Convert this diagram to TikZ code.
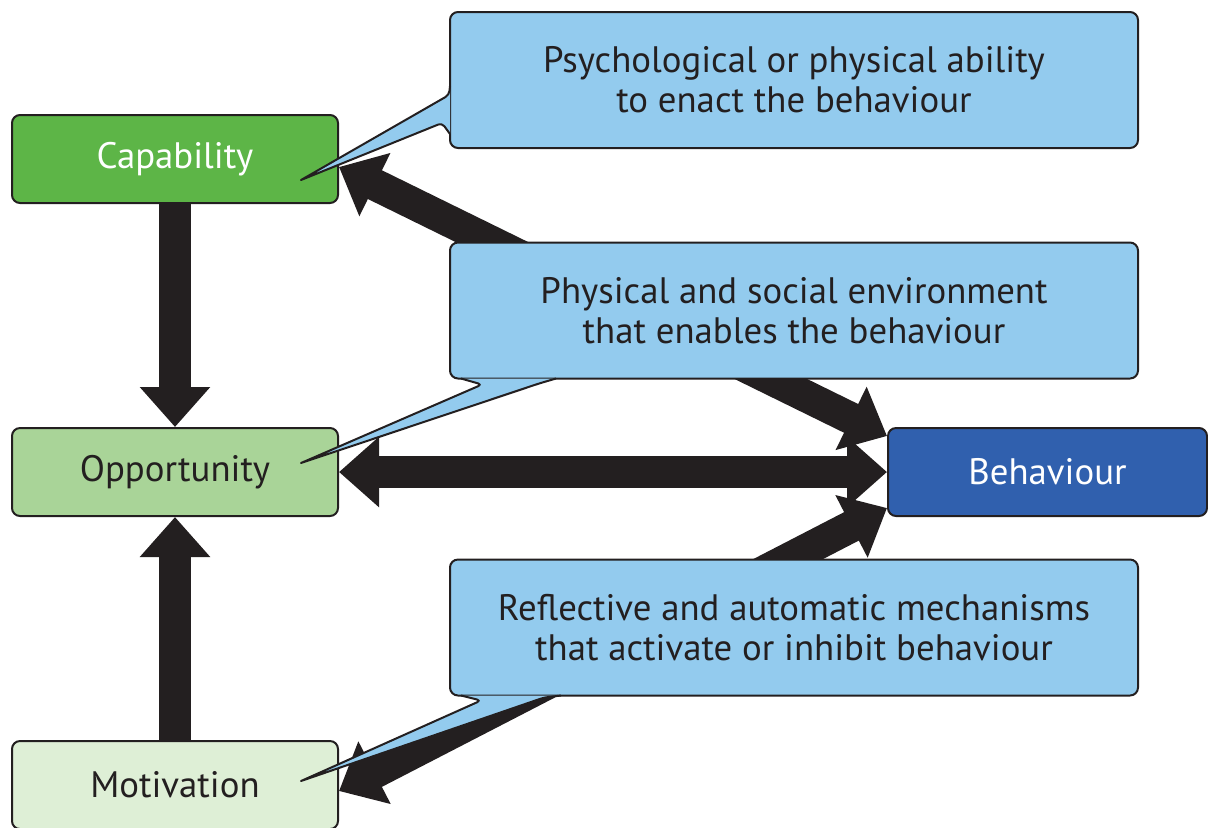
\documentclass[tikz,border=0pt]{standalone}
\usepackage{fontspec}
\setmainfont{PT Sans}
\usepackage{tikz}
\usetikzlibrary{calc, arrows.meta}
\definecolor{capgreen}{HTML}{5DB547}
\definecolor{oppgreen}{HTML}{A9D498}
\definecolor{motgreen}{HTML}{DEEFD6}
\definecolor{behblue}{HTML}{3060AE}
\definecolor{callblue}{HTML}{93CBEE}
\definecolor{ink}{HTML}{231F20}
\tikzstyle{blk}=[draw=ink, line width=1pt, rounded corners=4pt, minimum width=163pt, minimum height=44pt, inner sep=0pt, text=ink, font=\fontsize{18.4}{20}\selectfont]
\tikzstyle{callbox}=[blk, fill=callblue, minimum width=344pt, minimum height=68pt, align=center]
\tikzstyle{notetail}=[fill=callblue, draw=ink, line width=1pt, line join=round, rounded corners=2pt]
\tikzstyle{fat}=[line width=16pt, draw=ink, -{Triangle[length=20pt,width=34pt]}]
\tikzstyle{fatboth}=[fat, {Triangle[length=20pt,width=34pt]}-{Triangle[length=20pt,width=34pt]}]

\begin{document}
\begin{tikzpicture}[x=0.5pt,y=-0.5pt,node distance=156.5pt]
  \useasboundingbox (0,0) rectangle (1208,827);
  % the four blocks
  \node [blk, fill=capgreen, text=white] (cap) at (175,159) {Capability};
  \node [blk, fill=oppgreen] (opp) [below of=cap] {Opportunity};
  \node [blk, fill=motgreen] (mot) [below of=opp] {Motivation};
  \node [blk, fill=behblue, text=white, minimum width=159.5pt] (beh) at (1047.5,472) {Behaviour};

  % links
  \draw [fat] (cap.south) -- (opp.north);
  \draw [fat] (mot.north) -- (opp.south);
  \draw [fatboth] (opp.east) -- (beh.west);
  \draw [fatboth] ($(cap.east)+(0,8)$) -- ($(beh.west)+(0,-36)$);
  \draw [fatboth] ($(mot.east)+(0,6)$) -- ($(beh.west)+(0,36)$);

  % callouts
  \node [callbox] (c1) at (794,80) {Psychological or physical ability\\to enact the behaviour};
  \node [callbox] (c2) at (794,310.5) {Physical and social environment\\that enables the behaviour};
  \node [callbox] (c3) at (794,627.5) {Reflective and automatic mechanisms\\that activate or inhibit behaviour};

  \filldraw [notetail] ($(c1.west)+(1,6)$) -- ($(c1.west)+(0,15)$) [sharp corners]
    -- ($(cap.east)+(-38,21)$) [rounded corners=2pt] -- ($(c1.west)+(-7,43)$) -- ($(c1.west)+(1,54)$);
  \filldraw [notetail] ($(c2.south west)+(12,-1)$) -- ($(c2.south west)+(33,5)$) [sharp corners]
    -- ($(opp.east)+(-38,-9)$) [rounded corners=2pt] -- ($(c2.south west)+(90,4)$) -- ($(c2.south west)+(107,-1)$);
  \filldraw [notetail] ($(c3.south west)+(12,-1)$) -- ($(c3.south west)+(32,4)$) [sharp corners]
    -- ($(mot.east)+(-38,-4)$) [rounded corners=2pt] -- ($(c3.south west)+(95,1)$) -- ($(c3.south west)+(112,-1)$);
\end{tikzpicture}
\end{document}
